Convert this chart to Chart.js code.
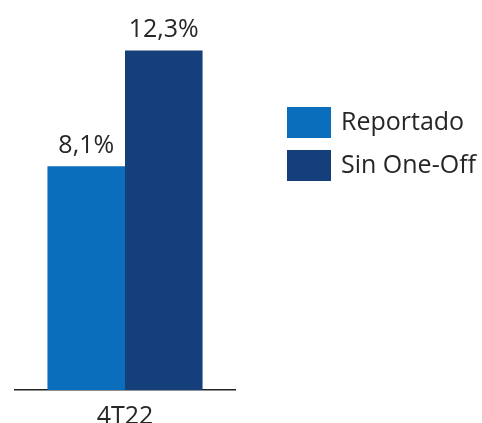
<!DOCTYPE html>
<html>
<head>
<meta charset="utf-8">
<script src="https://cdn.jsdelivr.net/npm/chart.js@4/dist/chart.umd.min.js"></script>
<style>
  html, body { margin: 0; padding: 0; background: #fff; }
  #wrap { width: 482px; height: 423px; }
</style>
</head>
<body>
<div id="wrap"><canvas id="chart" width="482" height="423"></canvas></div>
<script>
const periods = ['4T22']
const seriesNames = ['Reportado', 'Sin One-Off']
const reportado = [8.1]
const sinOneOff = [12.3]
const seriesColors = ['#0A6EBD', '#143F7A']

const FONT = '"Open Sans", sans-serif'
const TEXT = '#262626'

const fmt = (v) => v.toFixed(1).replace('.', ',') + '%'

// value labels above each bar
const valueLabels = {
  id: 'valueLabels',
  afterDatasetsDraw(chart) {
    const { ctx } = chart
    ctx.save()
    ctx.font = '25px ' + FONT
    ctx.fillStyle = TEXT
    ctx.textAlign = 'center'
    ctx.textBaseline = 'alphabetic'
    chart.data.datasets.forEach((ds, i) => {
      chart.getDatasetMeta(i).data.forEach((bar, j) => {
        ctx.fillText(fmt(ds.data[j]), bar.x, bar.y - 13)
      })
    })
    ctx.restore()
  }
}

// legend block on the right
const sideLegend = {
  id: 'sideLegend',
  afterDraw(chart) {
    const { ctx } = chart
    ctx.save()
    ctx.font = '25px ' + FONT
    ctx.textBaseline = 'middle'
    chart.data.datasets.forEach((ds, i) => {
      const top = 107 + i * 43
      ctx.fillStyle = ds.backgroundColor
      ctx.fillRect(287, top, 44, 31)
      ctx.fillStyle = TEXT
      ctx.fillText(ds.label, 341, top + 16)
    })
    ctx.restore()
  }
}

new Chart(document.getElementById('chart'), {
  type: 'bar',
  data: {
    labels: periods,
    datasets: [
      { label: seriesNames[0], data: reportado, backgroundColor: seriesColors[0] },
      { label: seriesNames[1], data: sinOneOff, backgroundColor: seriesColors[1] }
    ]
  },
  options: {
    responsive: false,
    animation: false,
    layout: { padding: { left: 15, right: 247, top: 9, bottom: -13 } },
    plugins: {
      legend: { display: false },
      tooltip: { enabled: false }
    },
    datasets: {
      bar: { barPercentage: 1, categoryPercentage: 0.705 }
    },
    scales: {
      x: {
        grid: { display: false },
        border: { display: true, color: '#222', width: 1.5 },
        ticks: { color: TEXT, font: { family: FONT, size: 25 }, padding: 4 }
      },
      y: {
        display: false,
        min: 0,
        max: 13.8
      }
    }
  },
  plugins: [valueLabels, sideLegend]
})
</script>
</body>
</html>
